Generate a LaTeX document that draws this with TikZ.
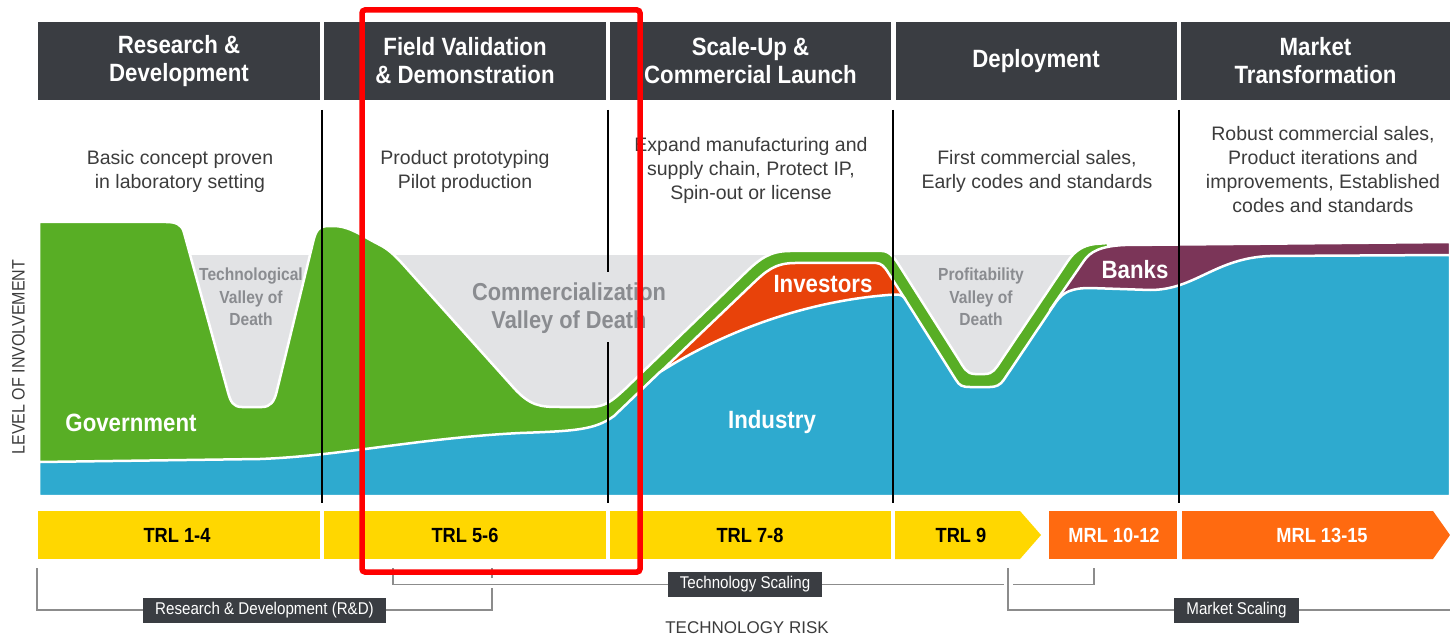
\documentclass[tikz,border=0pt]{standalone}
\usepackage{fontspec}
\setmainfont{Liberation Sans}
\newfontfamily\condf[FakeStretch=0.89]{Liberation Sans}
\definecolor{hdrdark}{HTML}{3A3D42}
\definecolor{descgray}{HTML}{3C3C3C}
\definecolor{valleygray}{HTML}{E2E3E5}
\definecolor{valtext}{HTML}{8A8C90}
\definecolor{govgreen}{HTML}{58AE25}
\definecolor{indblue}{HTML}{2EAACF}
\definecolor{invred}{HTML}{E8420A}
\definecolor{bankpurple}{HTML}{7B3558}
\definecolor{trlyellow}{HTML}{FFD700}
\definecolor{mrlorange}{HTML}{FF6A10}
\definecolor{brgray}{HTML}{8C8C8C}
\definecolor{redframe}{HTML}{FF0000}
\begin{document}
\begin{tikzpicture}[x=1pt,y=-1pt,
  hdr/.style={fill=hdrdark,text=white,minimum width=#1,minimum height=78pt,inner sep=0pt,align=center,font=\condf\bfseries\fontsize{25}{28}\selectfont},
  desc/.style={text=descgray,inner sep=0pt,align=center,font=\fontsize{19.5}{24}\selectfont},
  valt/.style={text=valtext,inner sep=0pt,align=center,font=\condf\bfseries\fontsize{17.5}{22.5}\selectfont},
  bigvalt/.style={text=valtext,inner sep=0pt,align=center,font=\condf\bfseries\fontsize{24.5}{28}\selectfont},
  actor/.style={text=white,inner sep=0pt,anchor=base,font=\condf\bfseries\fontsize{25}{28}\selectfont},
  layer/.style={draw=white,line width=2.5pt,line join=round},
  barseg/.style={fill=#1,minimum height=48pt,inner sep=0pt},
  barlbl/.style={inner sep=0pt,anchor=base,font=\condf\bfseries\fontsize{20.5}{22}\selectfont},
  tagbox/.style={fill=hdrdark,text=white,minimum width=#1,minimum height=25pt,inner sep=0pt,font=\condf\fontsize{17}{19}\selectfont},
  bracket/.style={draw=brgray,line width=1.8pt},
  divider/.style={draw=black,line width=1.5pt},
  plainlbl/.style={text=descgray,inner sep=0pt,font=\fontsize{16.5}{19}\selectfont}]
\useasboundingbox (0,0) rectangle (1450,636);

% header boxes
\node[hdr=282pt] (h1) at (179,61) {Research \&\\Development};
\node[hdr=282pt] (h2) at (465,61) {Field Validation\\\& Demonstration};
\node[hdr=281pt] (h3) at (750.5,61) {Scale-Up \&\\Commercial Launch};
\node[hdr=281pt] (h4) at (1036,61) {Deployment};
\node[hdr=269pt] (h5) at (1315.5,61) {Market\\Transformation};

% descriptions
\node[desc] (d1) at (180,171) {Basic concept proven\\in laboratory setting};
\node[desc] (d2) at (465,171) {Product prototyping\\Pilot production};
\node[desc] (d3) at (751,170) {Expand manufacturing and\\supply chain, Protect IP,\\Spin-out or license};
\node[desc] (d4) at (1037,171) {First commercial sales,\\Early codes and standards};
\node[desc] (d5) at (1323,170) {Robust commercial sales,\\Product iterations and\\improvements, Established\\codes and standards};

% valley background
\fill[valleygray] (186,255) rectangle (1071,445);

% government (green)
\path[layer,fill=govgreen] (39,222) -- (166,222) .. controls (176,222) and (181.7,224.5) .. (183.8,232)
  -- (227.9,392) .. controls (230.5,401.5) and (233,407) .. (242,407)
  -- (262,407) .. controls (270,407) and (274.2,402) .. (276.6,392)
  -- (313.6,240) .. controls (317,226) and (322,226) .. (333,226)
  .. controls (350,226) and (362,236) .. (380,245)
  .. controls (388,249) and (395,255.5) .. (403,264.4)
  -- (513,387) .. controls (530,406) and (540,407) .. (560,407)
  -- (590,407) .. controls (605,407) and (612,401) .. (625,389)
  -- (745,273) .. controls (760,258.5) and (770,251) .. (790,251)
  -- (882,251) .. controls (890,251) and (895.1,259) .. (898.9,265)
  -- (959.1,360) .. controls (963.1,366.3) and (966,374) .. (975,374)
  -- (985,374) .. controls (993,374) and (996,368) .. (1000.1,362)
  -- (1067.9,261) .. controls (1074,252) and (1082,245.5) .. (1095,244)
  -- (1108,243) -- (1108,496) -- (39,496) -- cycle;

% investors (red)
\path[layer,fill=invred] (630,401) -- (752,284.4) .. controls (766,271) and (775,263) .. (795,263)
  -- (876,263) .. controls (881,263) and (884.6,267) .. (887.1,271)
  -- (905,299) -- (905,430) -- (630,430) -- cycle;

% banks (purple)
\path[layer,fill=bankpurple] (1050,310) -- (1084,260.7) .. controls (1090,252) and (1100,246) .. (1125,245)
  -- (1450,242) -- (1450,496) -- (1050,496) -- cycle;

% industry (blue)
\path[layer,fill=indblue] (39,496) -- (39,462) -- (260,459) .. controls (340,456) and (420,438) .. (520,433)
  .. controls (575,431) and (595,430) .. (614,416)
  -- (660,372) .. controls (720,334) and (800,302) .. (888,295)
  .. controls (897,294.5) and (901.2,293) .. (905,299)
  -- (956,380) .. controls (959.5,385.5) and (962,387) .. (970,387)
  -- (990,387) .. controls (996,387) and (1000.3,385) .. (1003.7,380)
  -- (1056,302) .. controls (1063,292) and (1072,288) .. (1090,288)
  -- (1150,290) .. controls (1195,290) and (1215,258) .. (1270,256)
  -- (1450,255) -- (1450,496) -- cycle;

% valley texts
\node[valt] (tv) at (251,297) {Technological\\Valley of\\Death};
\node[bigvalt] (cv) at (569,308) {Commercialization\\Valley of Death};
\node[valt] (pv) at (981,297) {Profitability\\Valley of\\Death};

% actors
\node[actor] (gov) at (131,431) {Government};
\node[actor] (ind) at (772,428) {Industry};
\node[actor] (inv) at (823,292) {Investors};
\node[actor] (bank) at (1135,278) {Banks};

% dividers
\draw[divider] (322,110) -- (322,503);
\draw[divider] (608,110) -- (608,272);
\draw[divider] (608,342) -- (608,503);
\draw[divider] (893,110) -- (893,503);
\draw[divider] (1179,110) -- (1179,503);

% axis labels
\node[plainlbl,rotate=90,font=\condf\fontsize{18}{20}\selectfont] (yaxis) at (18.5,357) {LEVEL OF INVOLVEMENT};
\node[plainlbl,anchor=base,font=\fontsize{17}{19}\selectfont] (xaxis) at (747,633) {TECHNOLOGY RISK};

% readiness bar
\node[barseg=trlyellow,minimum width=282pt] (b1) at (179,535) {};
\node[barseg=trlyellow,minimum width=282pt] (b2) at (465,535) {};
\node[barseg=trlyellow,minimum width=281pt] (b3) at (750.5,535) {};
\fill[trlyellow] (895,511) -- (1020,511) -- (1041,535) -- (1020,559) -- (895,559) -- cycle;
\node[barseg=mrlorange,minimum width=128pt] (b5) at (1113,535) {};
\fill[mrlorange] (1182,511) -- (1433,511) -- (1450,535) -- (1433,559) -- (1182,559) -- cycle;
\node[barlbl] (l1) at (177,542) {TRL 1-4};
\node[barlbl] (l2) at (465,542) {TRL 5-6};
\node[barlbl] (l3) at (750,542) {TRL 7-8};
\node[barlbl] (l4) at (961,542) {TRL 9};
\node[barlbl,text=white] (l5) at (1114,542) {MRL 10-12};
\node[barlbl,text=white] (l6) at (1322,542) {MRL 13-15};

% bracket tags
\node[tagbox=243pt] (rd) at (264.5,610) {Research \& Development (R\&D)};
\node[tagbox=154pt] (ts) at (745,584.5) {Technology Scaling};
\node[tagbox=125pt] (ms) at (1236.5,610) {Market Scaling};

\coordinate (rdL) at (37,568);
\coordinate (rdR) at (492,588);
\coordinate (rdRa) at (492,578);
\coordinate (rdRb) at (492,568);
\coordinate (tsL) at (393,568);
\coordinate (tsM1) at (1004,584.5);
\coordinate (tsM2) at (1013,584.5);
\coordinate (tsR) at (1094,568);
\coordinate (msL) at (1008,568);
\coordinate (msR) at (1450,610);

\draw[bracket] (rdL) |- (rd.west);
\draw[bracket] (rd.east) -| (rdR);
\draw[bracket] (rdRa) -- (rdRb);
\draw[bracket] (tsL) |- (ts.west);
\draw[bracket] (ts.east) -- (tsM1);
\draw[bracket] (tsM2) -| (tsR);
\draw[bracket] (msL) |- (ms.west);
\draw[bracket] (ms.east) -- (msR);

% highlight frame
\draw[redframe,line width=5.5pt,rounded corners=3pt] (362,10) rectangle (640,572);
\end{tikzpicture}
\end{document}
